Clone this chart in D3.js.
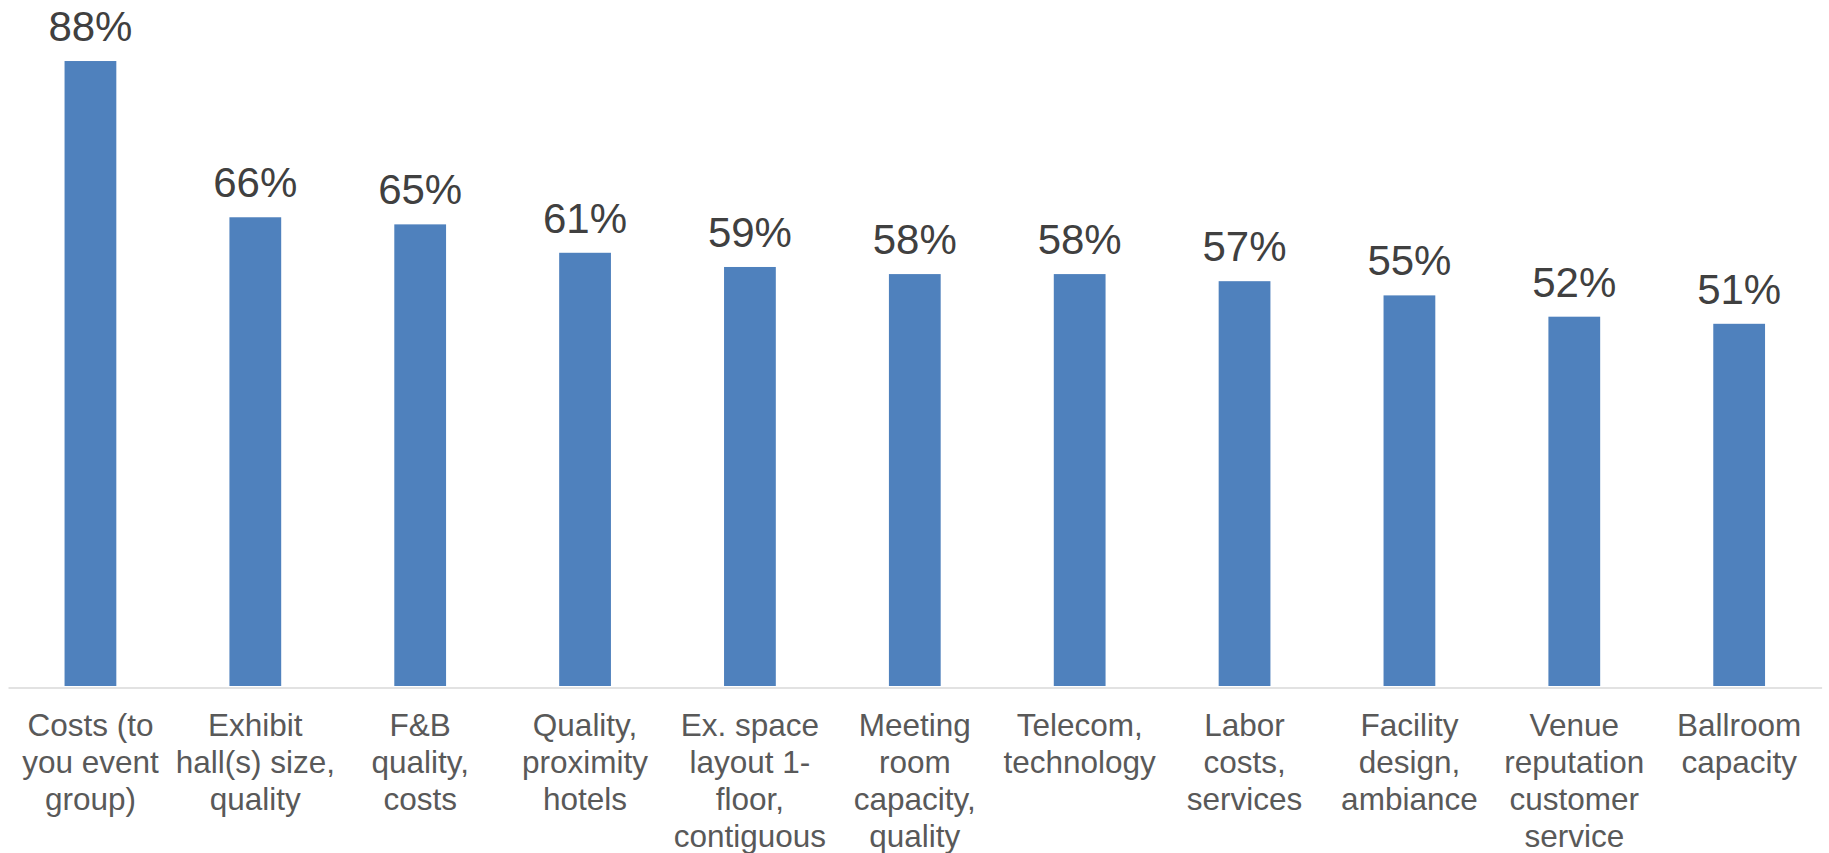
<!DOCTYPE html>
<html>
<head>
<meta charset="utf-8">
<script src="https://cdn.jsdelivr.net/npm/d3@7"></script>
<style>
  html, body { margin: 0; padding: 0; background: #ffffff; }
  svg { display: block; font-family: "Liberation Sans", Arial, sans-serif; }
</style>
</head>
<body>
<svg id="chart" width="1829" height="853"></svg>
<script>
// Venue selection factors, share of respondents (%)
const categories = [
  "Costs (to you event group)",
  "Exhibit hall(s) size, quality",
  "F&B quality, costs",
  "Quality, proximity hotels",
  "Ex. space layout 1-floor, contiguous",
  "Meeting room capacity, quality",
  "Telecom, technology",
  "Labor costs, services",
  "Facility design, ambiance",
  "Venue reputation customer service",
  "Ballroom capacity"
];
const values = [88, 66, 65, 61, 59, 58, 58, 57, 55, 52, 51];

// Wrapped lines of each category label
const categoryLines = [
  ["Costs (to", "you event", "group)"],
  ["Exhibit", "hall(s) size,", "quality"],
  ["F&B", "quality,", "costs"],
  ["Quality,", "proximity", "hotels"],
  ["Ex. space", "layout 1-", "floor,", "contiguous"],
  ["Meeting", "room", "capacity,", "quality"],
  ["Telecom,", "technology"],
  ["Labor", "costs,", "services"],
  ["Facility", "design,", "ambiance"],
  ["Venue", "reputation", "customer", "service"],
  ["Ballroom", "capacity"]
];

const svg = d3.select("#chart");

const left = 8, right = 1821.6, baseline = 686;

const x = d3.scaleBand()
  .domain(categories)
  .range([left, right])
  .paddingInner(0.686)
  .paddingOuter(0.343);

const y = d3.scaleLinear()
  .domain([0, 100])
  .range([baseline, baseline - 710.2]);

// Bars
svg.append("g")
  .selectAll("rect")
  .data(values)
  .join("rect")
  .attr("x", (d, i) => x(categories[i]))
  .attr("y", d => y(d))
  .attr("width", x.bandwidth())
  .attr("height", d => y(0) - y(d))
  .attr("fill", "#4f81bd");

// Category axis along the baseline
const axis = svg.append("g")
  .attr("transform", `translate(0,${baseline + 1.5})`)
  .call(d3.axisBottom(x).tickSize(0).tickSizeOuter(0).tickFormat(""));

axis.select(".domain")
  .attr("stroke", "#d9d9d9")
  .attr("stroke-width", 1.5);

axis.selectAll(".tick text").remove();

axis.selectAll(".tick")
  .append("text")
  .attr("text-anchor", "middle")
  .attr("fill", "#595959")
  .attr("font-size", "31.5px")
  .each(function(d, i) {
    const t = d3.select(this);
    categoryLines[i].forEach((line, k) => {
      t.append("tspan")
        .attr("x", 0)
        .attr("y", 48.5 + k * 37)
        .text(line);
    });
  });

// Value labels above bars
svg.append("g")
  .selectAll("text")
  .data(values)
  .join("text")
  .attr("x", (d, i) => x(categories[i]) + x.bandwidth() / 2)
  .attr("y", d => y(d) - 20)
  .attr("text-anchor", "middle")
  .attr("fill", "#404040")
  .attr("font-size", "42px")
  .text(d => d + "%");
</script>
</body>
</html>
